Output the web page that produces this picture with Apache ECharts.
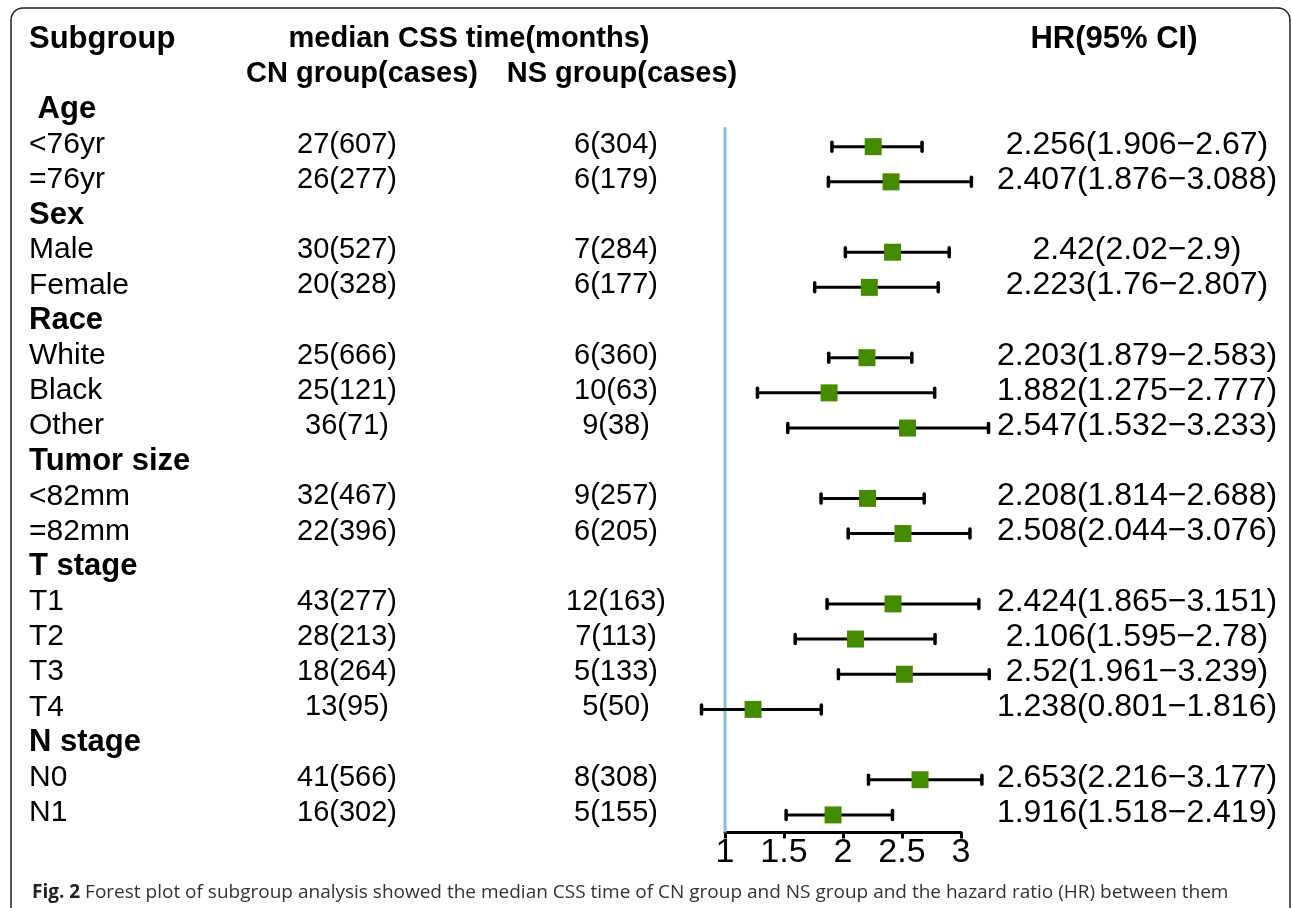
<!DOCTYPE html>
<html>
<head>
<meta charset="utf-8">
<title>Forest plot</title>
<script src="https://cdn.jsdelivr.net/npm/echarts@6/dist/echarts.min.js"></script>
<style>
  html, body { margin: 0; padding: 0; background: #fff; }
  #chart { width: 1292px; height: 908px; }
</style>
</head>
<body>
<div id="chart"></div>
<script>
// rows of the table, top to bottom
var labels = [' Age', '<76yr', '=76yr', 'Sex', 'Male', 'Female', 'Race', 'White', 'Black', 'Other',
    'Tumor size', '<82mm', '=82mm', 'T stage', 'T1', 'T2', 'T3', 'T4', 'N stage', 'N0', 'N1'];
var cnCases = ['', '27(607)', '26(277)', '', '30(527)', '20(328)', '', '25(666)', '25(121)', '36(71)',
    '', '32(467)', '22(396)', '', '43(277)', '28(213)', '18(264)', '13(95)', '', '41(566)', '16(302)'];
var nsCases = ['', '6(304)', '6(179)', '', '7(284)', '6(177)', '', '6(360)', '10(63)', '9(38)',
    '', '9(257)', '6(205)', '', '12(163)', '7(113)', '5(133)', '5(50)', '', '8(308)', '5(155)'];
var hr = [null, 2.256, 2.407, null, 2.42, 2.223, null, 2.203, 1.882, 2.547,
    null, 2.208, 2.508, null, 2.424, 2.106, 2.52, 1.238, null, 2.653, 1.916];
var lower = [null, 1.906, 1.876, null, 2.02, 1.76, null, 1.879, 1.275, 1.532,
    null, 1.814, 2.044, null, 1.865, 1.595, 1.961, 0.801, null, 2.216, 1.518];
var upper = [null, 2.67, 3.088, null, 2.9, 2.807, null, 2.583, 2.777, 3.233,
    null, 2.688, 3.076, null, 3.151, 2.78, 3.239, 1.816, null, 3.177, 2.419];
var refValue = [1];
var xTicks = [1, 1.5, 2, 2.5, 3];

// header texts (row -2 and -1 above the table)
var headers = [
    { text: 'Subgroup', row: -2, col: 'label' },
    { text: 'median CSS time(months)', row: -2, col: 'median' },
    { text: 'CN group(cases)', row: -1, col: 'cnHead' },
    { text: 'NS group(cases)', row: -1, col: 'nsHead' },
    { text: 'HR(95% CI)', row: -2, col: 'hrHead' }
];

var FONT = 'Liberation Sans';
var colX = { label: 29, cn: 347, ns: 616, hr: 1137, median: 469, cnHead: 362, nsHead: 622, hrHead: 1114 };
// font size per column
var colSize = { label: 30, labelHead: 31, cn: 29, ns: 29, hr: 32, median: 29, cnHead: 29, nsHead: 29, hrHead: 31 };

var ciData = [];
for (var i = 0; i < hr.length; i++) {
    if (hr[i] != null) ciData.push([i, hr[i], lower[i], upper[i]]);
}
var rowData = labels.map(function (l, i) { return [1, i]; });

var dom = document.getElementById('chart');
var myChart = echarts.init(dom);

function txt(x, y, s, align, bold, size) {
    return {
        type: 'text',
        x: x, y: y,
        style: {
            text: s,
            fill: '#000',
            fontFamily: FONT,
            fontSize: size,
            fontWeight: bold ? 'bold' : 'normal',
            align: align,
            verticalAlign: 'middle'
        }
    };
}

myChart.setOption({
    animation: false,
    title: {
        left: 27,
        top: 878,
        text: '{b|Fig. 2} Forest plot of subgroup analysis showed the median CSS time of CN group and NS group and the hazard ratio (HR) between them',
        textStyle: {
            fontFamily: 'Open Sans',
            fontSize: 19,
            fontWeight: 'normal',
            color: '#333',
            rich: {
                b: { fontFamily: 'Open Sans', fontSize: 19, fontWeight: 'bold', color: '#222' }
            }
        }
    },
    graphic: [{
        type: 'rect',
        shape: { x: 11, y: 8, width: 1279, height: 960, r: 12 },
        style: { fill: 'none', stroke: '#222', lineWidth: 1.5 },
        silent: true
    }],
    grid: { left: 725, top: 6, width: 236, height: 826.5 },
    xAxis: {
        type: 'value',
        min: 1,
        max: 3,
        interval: 0.5,
        position: 'bottom',
        splitLine: { show: false },
        axisLine: { onZero: false, lineStyle: { color: '#000', width: 3 } },
        axisTick: { length: 6, lineStyle: { color: '#000', width: 3 } },
        axisLabel: {
            margin: 3,
            color: '#000',
            fontSize: 34,
            fontFamily: FONT,
            formatter: function (v) { return xTicks.indexOf(v) >= 0 ? String(v) : ''; }
        }
    },
    yAxis: {
        type: 'value',
        min: -3,
        max: 20.5,
        inverse: true,
        show: false
    },
    series: [
        {
            // reference line at HR = 1
            type: 'custom',
            data: refValue.map(function (v) { return [v]; }),
            clip: false,
            z: 1,
            renderItem: function (params, api) {
                var p1 = api.coord([api.value(0), 0.45]);
                var p2 = api.coord([api.value(0), 20.5]);
                return {
                    type: 'line',
                    shape: { x1: p1[0], y1: p1[1], x2: p2[0], y2: p2[1] },
                    style: { stroke: '#7cc6cf', lineWidth: 3 }
                };
            }
        },
        {
            // CI whiskers + point estimate
            type: 'custom',
            data: ciData,
            clip: false,
            z: 3,
            renderItem: function (params, api) {
                var row = api.value(0);
                var c = api.coord([api.value(1), row]);
                var l = api.coord([api.value(2), row]);
                var h = api.coord([api.value(3), row]);
                var ls = { stroke: '#000', lineWidth: 3 };
                var cap = { stroke: '#000', lineWidth: 3.5, lineCap: 'round' };
                return {
                    type: 'group',
                    children: [
                        { type: 'line', shape: { x1: l[0], y1: c[1], x2: h[0], y2: c[1] }, style: ls },
                        { type: 'line', shape: { x1: l[0], y1: c[1] - 4.5, x2: l[0], y2: c[1] + 4.5 }, style: cap },
                        { type: 'line', shape: { x1: h[0], y1: c[1] - 4.5, x2: h[0], y2: c[1] + 4.5 }, style: cap },
                        { type: 'rect', shape: { x: c[0] - 8.5, y: c[1] - 8.5, width: 17, height: 17 },
                          style: { fill: '#458B00' } }
                    ]
                };
            }
        },
        {
            // table text
            type: 'custom',
            data: rowData,
            clip: false,
            z: 2,
            renderItem: function (params, api) {
                var i = params.dataIndex;
                var y = api.coord([1, api.value(1)])[1] - 2;
                var isHead = cnCases[i] === '';
                var kids = [txt(colX.label, y, labels[i], 'left', isHead, isHead ? colSize.labelHead : colSize.label)];
                if (!isHead) {
                    kids.push(txt(colX.cn, y, cnCases[i], 'center', false, colSize.cn));
                    kids.push(txt(colX.ns, y, nsCases[i], 'center', false, colSize.ns));
                    kids.push(txt(colX.hr, y, hr[i] + '(' + lower[i] + '\u2212' + upper[i] + ')', 'center', false, colSize.hr));
                }
                return { type: 'group', children: kids };
            }
        },
        {
            // column headers
            type: 'custom',
            data: headers.map(function (h) { return [1, h.row]; }),
            clip: false,
            z: 2,
            renderItem: function (params, api) {
                var h = headers[params.dataIndex];
                var y = api.coord([1, api.value(1)])[1] - 2;
                var size = h.col === 'label' ? colSize.labelHead : colSize[h.col];
                return txt(colX[h.col], y, h.text, h.col === 'label' ? 'left' : 'center', true, size);
            }
        }
    ]
});
</script>
</body>
</html>
